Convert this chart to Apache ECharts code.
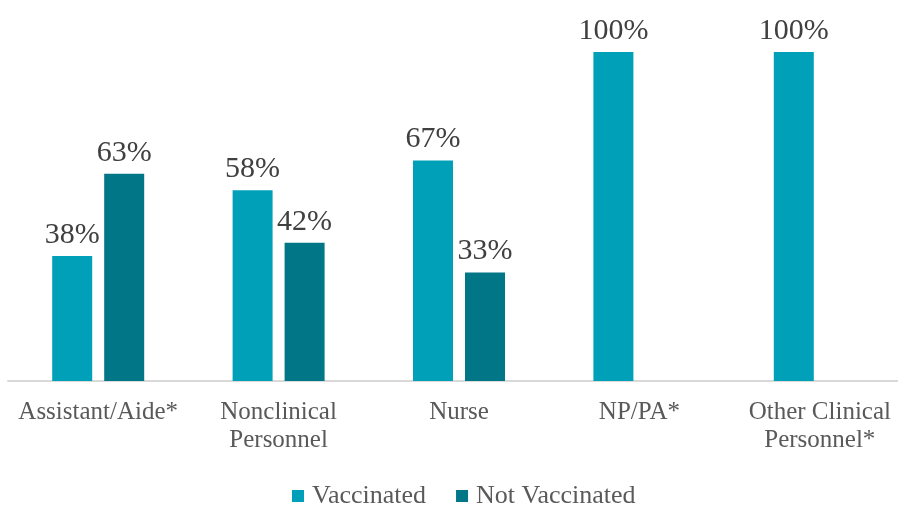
<!DOCTYPE html>
<html><head><meta charset="utf-8">
<script src="https://cdn.jsdelivr.net/npm/echarts@6/dist/echarts.min.js"></script>
<style>html,body{margin:0;padding:0;background:#fff}#c{width:898px;height:508px}</style>
</head><body><div id="c"></div>
<script>
const categories = ["Assistant/Aide*", "Nonclinical\nPersonnel", "Nurse", "NP/PA*", "Other Clinical\nPersonnel*"];
const vaccinated = [38, 58, 67, 100, 100];
const notVaccinated = [63, 42, 33, 0, 0];
const seriesNames = ["Vaccinated", "Not Vaccinated"];
const FONT = "Liberation Serif";
const chart = echarts.init(document.getElementById('c'));
const lbl = {
  show: true, position: 'top', distance: 6, color: '#404040', fontFamily: FONT, fontSize: 30,
  formatter: p => p.value ? p.value + '%' : ''
};
chart.setOption({
  animation: false,
  textStyle: { fontFamily: FONT },
  grid: { left: 8, width: 902, top: 52, height: 329, containLabel: false, outerBoundsMode: 'none' },
  legend: {
    top: 478, left: 287, itemWidth: 12, itemHeight: 12, itemGap: 30,
    icon: 'rect', textStyle: { fontFamily: FONT, fontSize: 26, color: '#595959', padding: [0, 0, 0, 3] },
    data: seriesNames
  },
  xAxis: {
    type: 'category', data: categories,
    axisLine: { lineStyle: { color: '#d9d9d9', width: 2 } },
    axisTick: { show: false },
    axisLabel: { fontFamily: FONT, fontSize: 25, color: '#595959', margin: 17, lineHeight: 28, interval: 0 }
  },
  yAxis: { type: 'value', min: 0, max: 100, show: false, splitLine: { show: false } },
  series: [
    { name: seriesNames[0], type: 'bar', data: vaccinated, barWidth: 40, barGap: '30%',
      itemStyle: { color: '#00A1B8' }, label: lbl },
    { name: seriesNames[1], type: 'bar', data: notVaccinated, barWidth: 40,
      itemStyle: { color: '#007686' }, label: lbl }
  ]
});
</script></body></html>
